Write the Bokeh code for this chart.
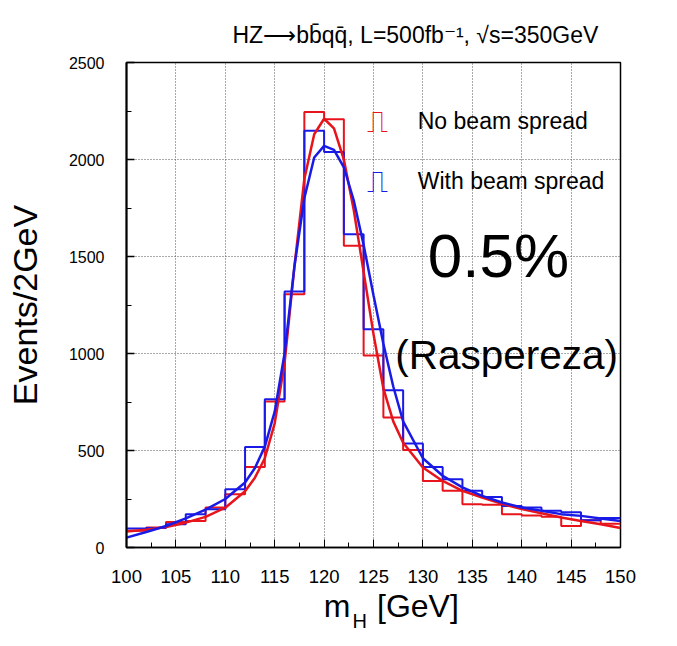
from bokeh.plotting import figure
from bokeh.models import Range1d, FixedTicker, Label, LinearAxis
from bokeh.embed import file_html
from bokeh.resources import INLINE

# ---------------- data ----------------
bin_edges = [100, 102, 104, 106, 108, 110, 112, 114, 116, 118, 120, 122, 124,
             126, 128, 130, 132, 134, 136, 138, 140, 142, 144, 146, 148, 150]
no_spread = [86, 103, 132, 137, 206, 275, 415, 752, 1306, 2245, 2207, 1555, 990,
             670, 503, 343, 292, 223, 220, 172, 165, 158, 111, 140, 122]
with_spread = [98, 100, 120, 172, 197, 300, 518, 764, 1320, 2148, 2039, 1615, 1125,
               810, 536, 415, 352, 292, 260, 214, 206, 189, 182, 140, 152]

fit_x = [100, 102, 104, 106, 108, 110, 112, 113, 114, 115, 116, 117, 118, 119, 120,
         121, 122, 123, 124, 125, 126, 127, 128, 130, 132, 134, 136, 138, 140, 142,
         144, 146, 148, 150]
fit_no_spread = [82, 92, 106, 128, 158, 205, 290, 360, 460, 640, 950, 1450, 1900,
                 2130, 2210, 2160, 2000, 1740, 1420, 1100, 820, 650, 540, 412, 343,
                 292, 258, 225, 198, 177, 155, 137, 120, 100]
fit_with_spread = [51, 80, 111, 150, 195, 250, 335, 410, 520, 700, 1000, 1450, 1800,
                   2010, 2070, 2050, 1960, 1790, 1560, 1300, 1050, 830, 650, 460, 370,
                   310, 266, 232, 206, 189, 172, 163, 150, 137]

x_ticks = [100, 105, 110, 115, 120, 125, 130, 135, 140, 145, 150]
y_ticks = [0, 500, 1000, 1500, 2000, 2500]

RED = "#e8141c"
BLUE = "#1a1ae6"
FONT = "Liberation Sans"
NB = "\u00a0"

p = figure(width=669, height=638, x_range=Range1d(100, 150), y_range=Range1d(0, 2500),
           output_backend="svg", toolbar_location=None,
           min_border_left=126, min_border_right=49, min_border_top=62,
           min_border_bottom=91)
p.title.text = "HZ\u27f6bb\u0304qq\u0304, L=500fb\u207b\u00b9, \u221as=350GeV"
p.title.align = "left"
p.title.offset = 106
p.title.standoff = 25
p.title.vertical_align = "top"
p.title.text_font = FONT
p.title.text_font_size = "23px"
p.title.text_font_style = "normal"
p.title.text_color = "black"
p.background_fill_color = "white"
p.border_fill_color = "white"
p.outline_line_color = "black"
p.outline_line_width = 1.5

x_minor = [a + 2.5 for a in x_ticks[:-1]]
y_minor = [a + 250 for a in y_ticks[:-1]]
p.xaxis.ticker = FixedTicker(ticks=x_ticks, minor_ticks=x_minor)
p.yaxis.ticker = FixedTicker(ticks=y_ticks, minor_ticks=y_minor)
for ax in (p.xaxis, p.yaxis):
    ax.major_tick_in = 8
    ax.major_tick_out = 0
    ax.minor_tick_in = 5
    ax.minor_tick_out = 0
    ax.axis_line_color = "black"
    ax.major_tick_line_color = "black"
    ax.minor_tick_line_color = "black"
    ax.major_label_text_color = "black"
    ax.major_label_text_font = FONT
    ax.axis_label_text_font = FONT
    ax.axis_label_text_font_style = "normal"
    ax.axis_label_text_color = "black"
p.yaxis.axis_line_width = 2
p.yaxis.major_tick_line_width = 1.5
p.xaxis.axis_line_width = 1.5
p.xaxis.major_label_text_font_size = "18.5px"
p.yaxis.major_label_text_font_size = "16px"
p.xaxis.major_label_standoff = 22
p.yaxis.major_label_standoff = 22

p.yaxis.axis_label = "Events/2GeV"
p.yaxis.axis_label_text_font_size = "34px"
p.yaxis.axis_label_standoff = 22

p.xaxis.axis_label = NB * 4 + "m" + NB * 3 + "[GeV]"
p.xaxis.axis_label_text_font_size = "32px"
p.xaxis.axis_label_standoff = 2

# subscript "H" of m_H, as the label of an extra (empty) axis below
sub_axis = LinearAxis(ticker=FixedTicker(ticks=[]), axis_line_color=None,
                      major_tick_line_color=None, minor_tick_line_color=None,
                      major_label_text_font_size="0px",
                      axis_label="H" + NB * 5, axis_label_text_font=FONT,
                      axis_label_text_font_size="20px",
                      axis_label_text_font_style="normal",
                      axis_label_text_color="black",
                      axis_label_standoff=-17)
p.add_layout(sub_axis, "below")

for g in (p.xgrid, p.ygrid):
    g.grid_line_color = "#555555"
    g.grid_line_dash = "1 2"
    g.grid_line_width = 1

# histograms
p.step(bin_edges, no_spread + [no_spread[-1]], mode="after", line_color=RED, line_width=2)
p.step(bin_edges, with_spread + [with_spread[-1]], mode="after", line_color=BLUE, line_width=2)
# fits
p.line(fit_x, fit_no_spread, line_color=RED, line_width=2.5)
p.line(fit_x, fit_with_spread, line_color=BLUE, line_width=2.5)


def lab(x, y, text, size, color="black", align="left", font=FONT):
    p.add_layout(Label(x=x, y=y, text=text, text_font_size=size, text_color=color,
                       text_align=align, text_baseline="middle", text_font=font))


# legend
lab(125.43, 2196, "\u238d", "30px", color=RED, align="center", font="DejaVu Sans")
lab(125.43, 1887, "\u238d", "30px", color=BLUE, align="center", font="DejaVu Sans")
lab(129.48, 2196, "No beam spread", "23px")
lab(129.48, 1887, "With beam spread", "23px")
# annotations
lab(130.5, 1505, "0.5%", "62px")
lab(127.2, 990, "(Raspereza)", "40.5px")

open("out.html", "w").write(file_html(p, INLINE))
